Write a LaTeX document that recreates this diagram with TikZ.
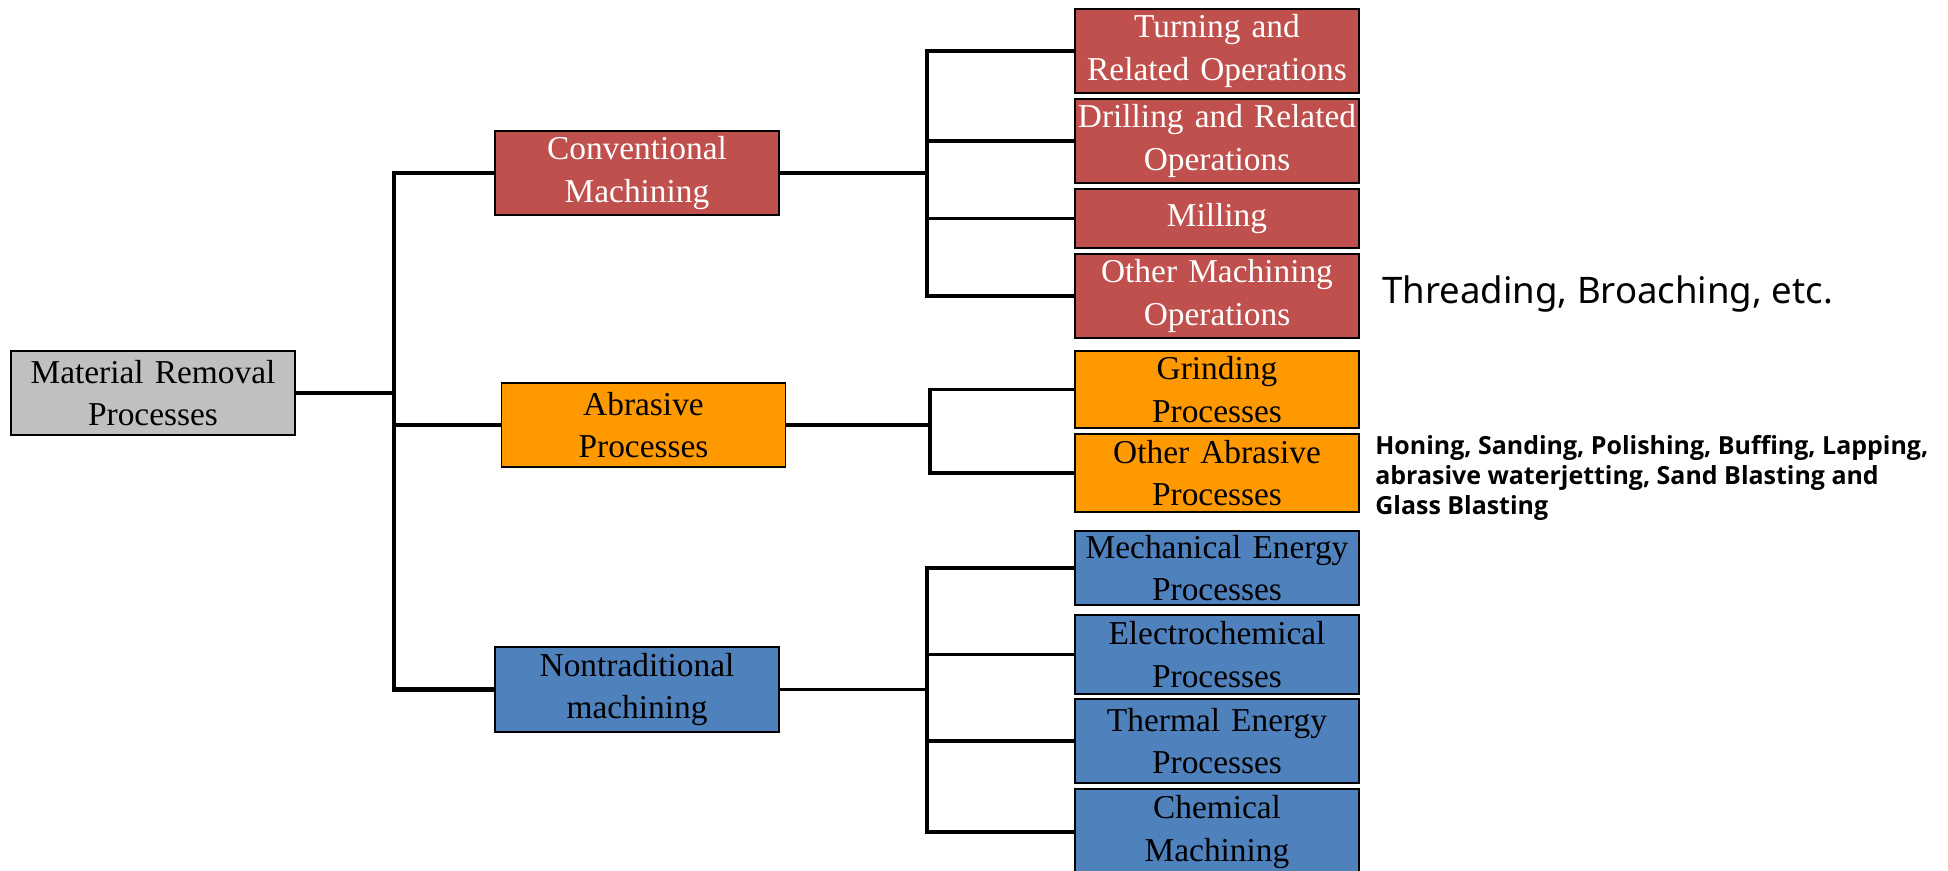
\documentclass[tikz,border=0pt]{standalone}
\usepackage{fontspec}
\setmainfont{Liberation Serif}
\newfontfamily\notefont{Noto Sans}
\newfontfamily\noteboldfont{Open Sans}

\definecolor{convred}{HTML}{C0504D}
\definecolor{abrorange}{HTML}{FF9900}
\definecolor{ntblue}{HTML}{4F81BD}
\definecolor{rootgray}{HTML}{C0C0C0}

\tikzset{
  procbox/.style={draw=black, line width=0.8pt, inner sep=0pt, minimum width=5.68cm,
    text width=5.68cm, align=center, font=\fontsize{19}{24}\selectfont},
  redbox/.style={procbox, fill=convred, text=white},
  orangebox/.style={procbox, fill=abrorange, text=black},
  bluebox/.style={procbox, fill=ntblue, text=black},
  mainline/.style={draw=black, line width=2.6pt},
  subline/.style={draw=black, line width=2pt},
}

\begin{document}
\begin{tikzpicture}
  \useasboundingbox (0,0) rectangle (38.96,17.40);

  % root and first level
  \node[procbox, fill=rootgray, minimum height=1.68cm] (root) at (3.06,9.54) {Material Removal\\Processes};
  \node[redbox, minimum height=1.68cm] (conv) at (12.74,13.94) {Conventional\\Machining};
  \node[orangebox, minimum height=1.68cm] (abr) at (12.87,8.90) {Abrasive\\Processes};
  \node[bluebox, minimum height=1.70cm] (nontrad) at (12.74,3.61) {Nontraditional\\machining};

  % conventional machining
  \node[redbox, minimum height=1.68cm] (turn) at (24.34,16.38) {Turning and\\Related Operations};
  \node[redbox, minimum height=1.68cm] (drill) at (24.34,14.58) {Drilling and Related\\Operations};
  \node[redbox, minimum height=1.18cm] (mill) at (24.34,13.03) {Milling};
  \node[redbox, minimum height=1.68cm] (othermach) at (24.34,11.48) {Other Machining\\Operations};

  % abrasive
  \node[orangebox, minimum height=1.54cm] (grind) at (24.34,9.61) {Grinding\\Processes};
  \node[orangebox, minimum height=1.56cm] (otherabr) at (24.34,7.94) {Other Abrasive\\Processes};

  % nontraditional
  \node[bluebox, minimum height=1.48cm] (mech) at (24.34,6.04) {Mechanical Energy\\Processes};
  \node[bluebox, minimum height=1.58cm] (echem) at (24.34,4.31) {Electrochemical\\Processes};
  \node[bluebox, minimum height=1.68cm] (therm) at (24.34,2.58) {Thermal Energy\\Processes};
  \node[bluebox, minimum height=1.72cm] (chem) at (24.34,0.76) {Chemical\\Machining};

  % notes
  \node[anchor=west, inner sep=0pt, font=\notefont\fontsize{20.8}{25}\selectfont] (threadnote) at (27.64,11.52)
    {Threading, Broaching, etc.};
  \node[anchor=west, inner sep=0pt, align=left, font=\noteboldfont\bfseries\fontsize{14.2}{17}\selectfont] (honenote) at (27.50,7.84)
    {Honing, Sanding, Polishing, Buffing, Lapping,\\abrasive waterjetting, Sand Blasting and\\Glass Blasting};

  % connectors
  \coordinate (trunk) at (7.88,9.54);
  \coordinate (convfork) at (18.54,13.94);
  \coordinate (abrfork) at (18.60,8.90);
  \coordinate (ntfork) at (18.54,3.61);

  \draw[mainline] (root.east) -- (trunk);
  \draw[mainline] (conv.west) -| (trunk) |- (nontrad.west);
  \draw[mainline] (abr.west) -- (abr.west -| trunk);

  \draw[subline] (conv.east) -- (convfork);
  \draw[subline] (turn.west) -| (convfork) |- (othermach.west);
  \draw[subline] (drill.west) -- (drill.west -| convfork);
  \draw[subline] (mill.west) -- (mill.west -| convfork);

  \draw[subline] (abr.east) -- (abrfork);
  \draw[subline] (grind.west) -| (abrfork) |- (otherabr.west);

  \draw[subline] (nontrad.east) -- (ntfork);
  \draw[subline] (mech.west) -| (ntfork) |- (chem.west);
  \draw[subline] (echem.west) -- (echem.west -| ntfork);
  \draw[subline] (therm.west) -- (therm.west -| ntfork);
\end{tikzpicture}
\end{document}
